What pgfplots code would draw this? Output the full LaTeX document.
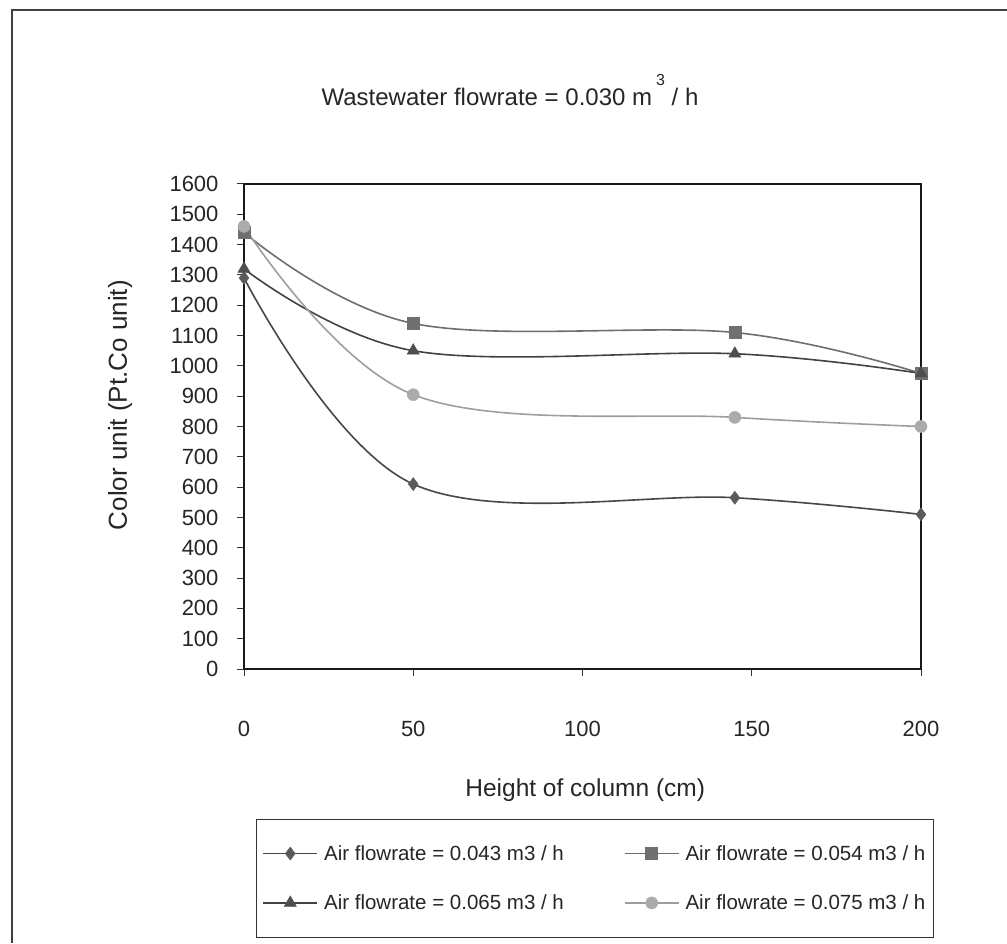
\documentclass[border=0pt]{standalone}
\usepackage{fontspec}
\setmainfont{Liberation Sans}
\usepackage{pgfplots}
\pgfplotsset{compat=1.18}

% series colours (greyscale print)
\definecolor{lineA}{HTML}{474747}
\definecolor{markA}{HTML}{5A5A5A}
\definecolor{lineB}{HTML}{6E6E6E}
\definecolor{markB}{HTML}{707070}
\definecolor{lineC}{HTML}{424242}
\definecolor{markC}{HTML}{4E4E4E}
\definecolor{lineD}{HTML}{9E9E9E}
\definecolor{markD}{HTML}{ABABAB}

\begin{document}
\begin{tikzpicture}[x=1pt,y=1pt]
\path[use as bounding box] (0,0) rectangle (1007,943);
% outer chart frame
\draw[line width=1.6pt, black!75] (12,0) -- (12,933) -- (1007,933);

% chart title
\node[font=\fontsize{24}{28}\selectfont, text=black!85] at (510,853)
  {Wastewater flowrate = 0.030 m\,\raisebox{20pt}{\fontsize{16}{16}\selectfont 3}\ / h};

\begin{axis}[
  at={(244pt,274pt)}, anchor=south west,
  width=677pt, height=485pt, scale only axis,
  xmin=0, xmax=200, ymin=0, ymax=1600,
  xtick={0,50,...,200}, ytick={0,100,...,1600},
  xtick pos=bottom, ytick pos=left,
  tick align=outside, major tick length=7pt,
  axis line style={line width=1.8pt, black!90},
  tick style={line width=1pt, black!80},
  /pgf/number format/assume math mode=true,
  /pgf/number format/1000 sep={},
  ticklabel style={font=\fontsize{22}{26}\selectfont, text=black!85},
  xticklabel style={anchor=center, yshift=-53pt},
  yticklabel style={anchor=east, xshift=-15pt},
  xlabel={Height of column (cm)},
  ylabel={Color unit (Pt.Co unit)},
  label style={text=black!85},
  xlabel style={font=\fontsize{24.5}{28}\selectfont, at={(axis description cs:0.504,-0.249)}, anchor=center},
  ylabel style={font=\fontsize{26}{30}\selectfont, at={(axis description cs:-0.183,0.544)}, anchor=center, rotate=0},
  legend columns=2,
  legend cell align=left,
  legend style={at={(axis description cs:0.0177,-0.3091)}, anchor=north west,
    draw=black!80, line width=1pt, fill=white,
    inner xsep=6pt, inner ysep=24pt,
    font=\fontsize{20.5}{24}\selectfont, text=black!85,
    /tikz/every even column/.append style={column sep=58pt},
    /tikz/row sep=29pt},
  legend image code/.code={
    \draw[#1, line width=1.6pt, mark repeat=2, mark phase=2]
      plot coordinates {(0pt,0pt) (27pt,0pt) (54pt,0pt)};
    \path (58pt,0pt);
  },
]

\addplot[color=lineA, line width=1.6pt, smooth, tension=0.6,
  mark=diamond*, mark size=6.5pt, mark options={fill=markA, draw=markA, line width=0.5pt}]
  coordinates {(0,1290) (50,610) (145,565) (200,510)};
\addlegendentry{Air flowrate = 0.043 m3 / h}

\addplot[color=lineB, line width=1.6pt, smooth, tension=0.6,
  mark=square*, mark size=6pt, mark options={fill=markB, draw=markB, line width=0.5pt}]
  coordinates {(0,1440) (50,1140) (145,1110) (200,975)};
\addlegendentry{Air flowrate = 0.054 m3 / h}

\addplot[color=lineC, line width=1.6pt, smooth, tension=0.6,
  mark=triangle*, mark size=7pt, mark options={fill=markC, draw=markC, line width=0.5pt}]
  coordinates {(0,1320) (50,1050) (145,1040) (200,975)};
\addlegendentry{Air flowrate = 0.065 m3 / h}

\addplot[color=lineD, line width=1.6pt, smooth, tension=0.6,
  mark=*, mark size=6pt, mark options={fill=markD, draw=markD, line width=0.5pt}]
  coordinates {(0,1460) (50,905) (145,830) (200,800)};
\addlegendentry{Air flowrate = 0.075 m3 / h}

\end{axis}
\end{tikzpicture}
\end{document}
